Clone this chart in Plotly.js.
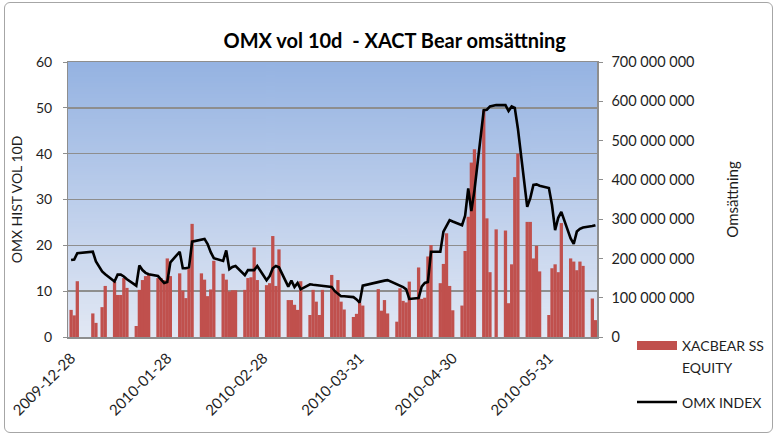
<!DOCTYPE html>
<html>
<head>
<meta charset="utf-8">
<script src="https://cdn.plot.ly/plotly-3.0.1.min.js"></script>
<style>
html,body{margin:0;padding:0;background:#fff;}
#wrap{position:relative;width:777px;height:435px;}
#chart{width:777px;height:435px;}
#frame{position:absolute;left:4px;top:2px;width:767px;height:429px;border:1px solid #a6a6a6;border-radius:6px;pointer-events:none;}
</style>
</head>
<body>
<div id="wrap"><div id="chart"></div><div id="frame"></div></div>
<script>
// Trading days
const dates = [
 '2009-12-28','2009-12-29','2009-12-30',
 '2010-01-04','2010-01-05','2010-01-07','2010-01-08',
 '2010-01-11','2010-01-12','2010-01-13','2010-01-14','2010-01-15',
 '2010-01-18','2010-01-19','2010-01-20','2010-01-21','2010-01-22',
 '2010-01-25','2010-01-26','2010-01-27','2010-01-28','2010-01-29',
 '2010-02-01','2010-02-02','2010-02-03','2010-02-04','2010-02-05',
 '2010-02-08','2010-02-09','2010-02-10','2010-02-11','2010-02-12',
 '2010-02-15','2010-02-16','2010-02-17','2010-02-18','2010-02-19',
 '2010-02-22','2010-02-23','2010-02-24','2010-02-25','2010-02-26',
 '2010-03-01','2010-03-02','2010-03-03','2010-03-04','2010-03-05',
 '2010-03-08','2010-03-09','2010-03-10','2010-03-11','2010-03-12',
 '2010-03-15','2010-03-16','2010-03-17','2010-03-18','2010-03-19',
 '2010-03-22','2010-03-23','2010-03-24','2010-03-25','2010-03-26',
 '2010-03-29','2010-03-30','2010-03-31','2010-04-01',
 '2010-04-06','2010-04-07','2010-04-08','2010-04-09',
 '2010-04-12','2010-04-13','2010-04-14','2010-04-15','2010-04-16',
 '2010-04-19','2010-04-20','2010-04-21','2010-04-22','2010-04-23',
 '2010-04-26','2010-04-27','2010-04-28','2010-04-29','2010-04-30',
 '2010-05-03','2010-05-04','2010-05-05','2010-05-06','2010-05-07',
 '2010-05-10','2010-05-11','2010-05-12','2010-05-14',
 '2010-05-17','2010-05-18','2010-05-19','2010-05-20','2010-05-21',
 '2010-05-24','2010-05-25','2010-05-26','2010-05-27','2010-05-28',
 '2010-05-31','2010-06-01','2010-06-02','2010-06-03','2010-06-04',
 '2010-06-07','2010-06-08','2010-06-09','2010-06-10','2010-06-11',
 '2010-06-14','2010-06-15'
];

// XACBEAR SS EQUITY turnover (SEK)
const turnover = [
 69000000,55000000,142000000,
 60000000,36000000,76000000,130000000,
 140000000,107000000,107000000,150000000,125000000,
 28000000,120000000,145000000,155000000,158000000,
 150000000,150000000,145000000,200000000,155000000,
 162000000,118000000,99000000,175000000,288000000,
 162000000,146000000,104000000,121000000,194000000,
 161000000,146000000,116000000,119000000,119000000,
 120000000,150000000,152000000,228000000,145000000,
 132000000,137000000,257000000,130000000,223000000,
 94000000,94000000,82000000,69000000,142000000,
 56000000,120000000,90000000,56000000,120000000,
 158000000,118000000,145000000,90000000,70000000,
 51000000,59000000,88000000,80000000,
 122000000,67000000,94000000,60000000,
 39000000,124000000,92000000,88000000,141000000,
 177000000,97000000,100000000,205000000,234000000,
 137000000,186000000,264000000,130000000,68000000,
 80000000,219000000,306000000,444000000,478000000,
 577000000,302000000,165000000,274000000,
 271000000,86000000,185000000,407000000,467000000,
 293000000,293000000,200000000,232000000,167000000,
 56000000,175000000,185000000,165000000,290000000,
 200000000,192000000,170000000,192000000,181000000,
 98000000,43000000
];

// OMX INDEX 10-day historical volatility
const omxVol = [
 16.8,16.9,18.3,
 18.6,16.5,14.3,13.7,
 12.1,13.6,13.6,13.2,12.6,
 11.2,15.6,14.6,14.0,13.7,
 13.3,12.5,11.8,12.0,16.3,
 18.6,15.0,15.0,15.2,20.8,
 21.3,21.4,20.3,18.5,17.2,
 16.6,18.9,14.8,15.3,15.5,
 13.5,14.6,14.6,14.6,15.5,
 12.4,13.3,15.0,15.5,15.2,
 11.0,12.3,10.9,11.8,10.4,
 11.5,11.4,11.3,11.3,11.2,
 10.9,10.0,9.4,8.9,8.9,
 8.7,8.2,7.5,11.2,
 12.1,12.2,12.3,12.4,
 11.5,11.3,10.9,10.4,8.3,
 8.5,11.0,11.8,12.0,18.6,
 18.6,23.0,24.3,25.5,25.2,
 24.4,26.5,32.4,27.5,32.0,
 49.5,49.6,50.3,50.6,
 50.6,49.3,50.3,50.0,45.5,
 28.4,30.3,33.2,33.3,33.0,
 32.5,28.8,23.3,26.0,27.3,
 21.5,20.3,23.0,23.6,23.9,
 24.2,24.4
];

const tickDates = ['2009-12-28','2010-01-28','2010-02-28','2010-03-31','2010-04-30','2010-05-31'];
const tickLabels = ['2009-12-28','2010-01-28','2010-02-28','2010-03-31','2010-04-30','2010-05-31'];

const barName = 'XACBEAR SS EQUITY';
const lineName = 'OMX INDEX';

// background gradient image for the plot area
const cv = document.createElement('canvas');
cv.width = 4; cv.height = 256;
const ctx = cv.getContext('2d');
const grd = ctx.createLinearGradient(0, 0, 0, 256);
grd.addColorStop(0, '#95b3e2');
grd.addColorStop(1, '#e2e8f4');
ctx.fillStyle = grd; ctx.fillRect(0, 0, 4, 256);
const bgURL = cv.toDataURL('image/png');

const FONT = 'Lato, "Open Sans", "DejaVu Sans", sans-serif';
const GRID = '#8e8e8e';
const TXT = '#1e1e1e';

const traces = [
 {
  type: 'bar', name: barName, x: dates, y: turnover, yaxis: 'y',
  marker: {color: '#c0504d', line: {width: 0}},
  width: 86400000 * 1.06,
  hoverinfo: 'x+y'
 },
 {
  type: 'scatter', mode: 'lines', name: lineName, x: dates, y: omxVol, yaxis: 'y2',
  line: {color: '#000000', width: 2.6}
 }
];

const PL = 68, PR = 597, PT = 62, PB = 337;
const pw = PR - PL, ph = PB - PT;
const px = v => (v - PL) / pw;
const py = v => (PB - v) / ph;

const layout = {
 width: 777, height: 435,
 margin: {l: PL, r: 777 - PR, t: PT, b: 435 - PB, pad: 0},
 paper_bgcolor: 'rgba(0,0,0,0)',
 plot_bgcolor: 'rgba(0,0,0,0)',
 separators: ', ',
 showlegend: false,
 font: {family: FONT, size: 14, color: TXT},
 title: {
  text: 'OMX vol 10d\u00a0 - XACT Bear omsättning',
  font: {family: FONT, size: 20, color: '#000', weight: 700},
  x: 0.508, xanchor: 'center', y: 0.905, yanchor: 'middle'
 },
 images: [{
  source: bgURL, xref: 'paper', yref: 'paper', x: 0, y: 1, sizex: 1, sizey: 1,
  xanchor: 'left', yanchor: 'top', sizing: 'stretch', layer: 'below'
 }],
 xaxis: {
  type: 'date',
  range: ['2009-12-27 00:00', '2010-06-15 12:00'],
  tickmode: 'array', tickvals: tickDates, ticktext: tickLabels,
  tickangle: -45, tickfont: {size: 15, color: TXT}, ticklabelstandoff: 5,
  showgrid: false, zeroline: false,
  showline: true, linecolor: GRID, linewidth: 1.5, mirror: true,
  ticks: ''
 },
 yaxis: {
  side: 'right', range: [0, 700000000], dtick: 100000000, tick0: 0,
  tickformat: ',.0f', showgrid: false, zeroline: false,
  showline: true, linecolor: GRID, linewidth: 1.5, mirror: true,
  ticks: 'outside', ticklen: 4, tickcolor: GRID, ticklabelstandoff: 6,
  tickfont: {size: 14.5, color: TXT},
  title: {text: 'Omsättning', font: {size: 15, color: TXT}, standoff: 34}
 },
 yaxis2: {
  overlaying: 'y', side: 'left', range: [0, 60], dtick: 10, tick0: 0,
  showgrid: true, gridcolor: GRID, gridwidth: 1.5, zeroline: false,
  ticks: 'outside', ticklen: 4, tickcolor: GRID, ticklabelstandoff: 8,
  tickfont: {size: 14, color: TXT},
  title: {text: 'OMX HIST VOL 10D', font: {size: 14, color: TXT}, standoff: 10}
 },
 shapes: [
  {type: 'rect', xref: 'paper', yref: 'paper', x0: px(637), x1: px(677), y0: py(350), y1: py(341),
   fillcolor: '#c0504d', line: {width: 0}},
  {type: 'line', xref: 'paper', yref: 'paper', x0: px(637), x1: px(677), y0: py(402), y1: py(402),
   line: {color: '#000', width: 2.6}}
 ],
 annotations: [
  {text: 'XACBEAR SS', xref: 'paper', yref: 'paper', x: px(680), y: py(345), xanchor: 'left', yanchor: 'middle',
   showarrow: false, font: {size: 14, color: TXT}},
  {text: 'EQUITY', xref: 'paper', yref: 'paper', x: px(680), y: py(367), xanchor: 'left', yanchor: 'middle',
   showarrow: false, font: {size: 14, color: TXT}},
  {text: lineName, xref: 'paper', yref: 'paper', x: px(680), y: py(402), xanchor: 'left', yanchor: 'middle',
   showarrow: false, font: {size: 14, color: TXT}}
 ]
};

Plotly.newPlot('chart', traces, layout, {displayModeBar: false, staticPlot: true});
</script>
</body>
</html>
